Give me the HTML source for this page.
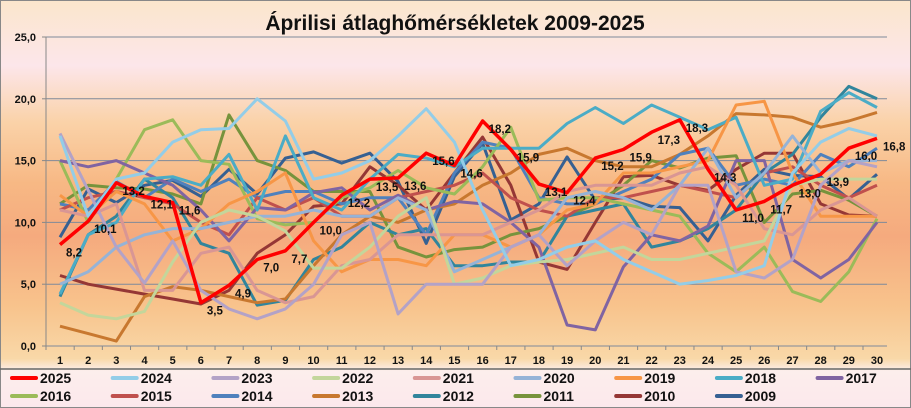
<!DOCTYPE html>
<html><head><meta charset="utf-8"><style>
body{margin:0;}
#wrap{width:911px;height:408px;position:relative;overflow:hidden;font-family:"Liberation Sans",sans-serif;}
</style></head><body>
<div id="wrap">
<svg id="svg" width="911" height="408" xmlns="http://www.w3.org/2000/svg">
<defs>
<linearGradient id="bg" x1="0" y1="0" x2="0" y2="1">
<stop offset="0" stop-color="#FBE6CC"/>
<stop offset="0.16" stop-color="#FCE6EA"/>
<stop offset="0.3" stop-color="#FAD2A8"/>
<stop offset="0.45" stop-color="#F7B884"/>
<stop offset="0.58" stop-color="#F5AA7E"/>
<stop offset="0.75" stop-color="#F8C38C"/>
<stop offset="0.88" stop-color="#F9D8A8"/>
<stop offset="0.91" stop-color="#FCEEEC"/>
<stop offset="1" stop-color="#FCE8EC"/>
</linearGradient>
</defs>
<rect x="0.5" y="0.5" width="910" height="407" fill="url(#bg)" stroke="#888"/>
<text x="455" y="30" text-anchor="middle" font-size="21" font-weight="bold" fill="#111">Áprilisi átlaghőmérsékletek  2009-2025</text>
<line x1="0" y1="369" x2="911" y2="369" stroke="#666" stroke-width="1.5"/>
<g id="grid"></g><g id="series"></g><g id="labels"></g><g id="legend"></g>
</svg>
</div>
<script>
const days=[1,2,3,4,5,6,7,8,9,10,11,12,13,14,15,16,17,18,19,20,21,22,23,24,25,26,27,28,29,30];
const yTicks=[0,5,10,15,20,25];
const yTickLabels=["0,0","5,0","10,0","15,0","20,0","25,0"];
const years=["2025","2024","2023","2022","2021","2020","2019","2018","2017","2016","2015","2014","2013","2012","2011","2010","2009"];
const colors=["#FF0000","#93CDE8","#B3A2C7","#C3D69B","#D99694","#95B3D7","#F79646","#4BACC6","#8064A2","#9BBB59","#C0504D","#4F81BD","#C8782F","#31859C","#77933C","#953735","#366092"];
const v2025=[8.2,10.1,13.2,12.1,11.6,3.5,4.9,7.0,7.7,10.0,12.2,13.5,13.6,15.6,14.6,18.2,15.9,13.1,12.4,15.2,15.9,17.3,18.3,14.3,11.0,11.7,13.0,13.9,16.0,16.8];
const v2024=[17,10.5,13.5,14,16.5,17.5,17.6,20,18.2,13.5,14,15,17,19.2,16.5,11,6.5,7,8,8.5,7,6,5,5.3,5.7,6.5,14,16.5,17.6,17];
const v2023=[17.2,12.6,8,5.1,8.5,4.5,3,2.2,3,5,9,10,2.6,5,5,5,8,9,6.5,8.5,10,9,13,13,6,5.5,7,13,15,14.5];
const v2022=[3.5,2.5,2.2,2.8,6.8,10,11,10.5,9.3,6.3,6.3,8,10.5,12,5,5.5,6.5,6.8,7,7.5,8,7,7,7.5,8,8.5,13,13.5,13.5,13.5];
const v2021=[11,10.5,11.5,4.5,4.5,7.5,8,4.5,3.5,4,6.5,7,9,9,9,9,10,11,12.5,13,13,13,14,14.5,13,9.5,9,11,12,10.5];
const v2020=[5,6,8,9,9.5,9.5,10,10.5,10.5,11,10.5,10.5,12,11,6,7,8,9,12,12.5,12,11,13,16,12,14,17,14,15,15];
const v2019=[12.2,10.5,12.5,11.5,8.5,9.5,11.5,12.5,14,8.5,6,7,7,6.5,9,9,8,9,11,11.5,14,14,14.5,15,19.5,19.8,14,10.5,10.5,10.5];
const v2018=[4.2,9,10,13.5,13.7,13,15.5,11,17,12,11,13.5,15.5,15.2,14.5,16,16,16,18,19.3,18,19.5,18.5,17.5,18.5,13,13.5,19,20.5,19.3];
const v2017=[15,14.5,15,14,13,11,8.5,11.2,11,12.4,12.8,11,12.2,11,11.7,11.5,10,8,1.7,1.3,6.4,9,8.5,9.7,15,15,7,5.5,7,10];
const v2016=[15,10,13.5,17.5,18.3,15,14.7,10.3,9.8,10,12,12.8,14.2,12.8,12.3,14.5,17.7,11.8,12,12,11.5,11,10.5,7.5,6,8,4.4,3.6,6,10.3];
const v2015=[11,12,12.5,12,11.5,10,9,12,11,12,10.5,10.5,12,12.5,13,14,12,11,10.5,12,12,12.5,13,12.5,12,14,14.5,13,12,13];
const v2014=[11.5,11,13.3,12,13.5,12.5,13.5,12,12.5,12.5,11.5,12,12,9,14,16.5,16,12,11.5,11.5,12.5,13.5,15.5,16,13,13.5,13,15.5,14.5,16];
const v2013=[1.6,1,0.4,4,4.8,4.5,4,3.5,3.8,6.5,9,10.5,10,11,11.5,13,14,15.5,16,15,14.5,14.5,15.5,17,18.8,18.7,18.5,17.7,18.2,18.9];
const v2012=[4,9,10.5,13.5,12,8.3,7.5,3.3,3.7,7,8,10,9,9.5,6.5,6.5,6.8,6.8,10.5,11,11.5,8,8.5,9.5,11,14,15.5,18.5,21,20];
const v2011=[11.5,13,12.8,12.7,12.3,11.5,18.7,15,14.2,12.5,12.5,12.5,8,7.2,7.8,8,9,9.5,10.5,11.5,13,15,14.4,15.2,15.4,10,12.3,12.6,11.8,10.5];
const v2010=[5.7,5,4.6,4.2,3.8,3.4,4.5,7.5,9,11.3,11.5,14.5,13,11,14,16.9,13,6.8,6.2,10,13.7,13.8,13,12.6,14.3,15.6,15.6,11.5,10.6,10.5];
const v2009=[8.8,12.7,11.6,13,13.4,12.1,14.3,12.3,15.2,15.7,14.8,15.6,13.3,8.3,13.7,16.4,10.2,11.5,15.3,11.8,12,11.3,11.2,8.5,12.2,14.3,13.8,13.7,11.9,13.9];
const seriesVals=[v2025,v2024,v2023,v2022,v2021,v2020,v2019,v2018,v2017,v2016,v2015,v2014,v2013,v2012,v2011,v2010,v2009];

const NS="http://www.w3.org/2000/svg";
const X0=46,X1=887,Y0=346,Y1=37;
function xs(d){return 60+(d-1)*(877-60)/29;}
function ys(v){return Y0-(v/25)*(Y0-Y1);}
function mk(tag,attrs,parent){const e=document.createElementNS(NS,tag);for(const k in attrs)e.setAttribute(k,attrs[k]);parent.appendChild(e);return e;}
const grid=document.getElementById('grid');
yTicks.forEach((t,i)=>{
 const l=mk('line',{x1:X0,x2:X1,y1:ys(t),y2:ys(t),stroke:'#7F8A9A','stroke-width':1},grid);
 
 
 const tx=mk('text',{x:36,y:ys(t)+4,'text-anchor':'end','font-size':11,'font-weight':'bold',fill:'#111'},grid);
 tx.textContent=yTickLabels[i];
 
 
 const tk=mk('line',{x1:X0-4,x2:X0,y1:ys(t),y2:ys(t),stroke:'#888'},grid);
 
 
});
const ax=mk('line',{x1:X0,x2:X0,y1:Y1,y2:Y0,stroke:'#888'},grid);


days.forEach(d=>{
 const tk=mk('line',{x1:xs(d)-14,x2:xs(d)-14,y1:Y0,y2:Y0+4,stroke:'#888'},grid);
 
 
 const tx=mk('text',{x:xs(d),y:Y0+18,'text-anchor':'middle','font-size':11,'font-weight':'bold',fill:'#111'},grid);
 tx.textContent=d;
 
 
});
const sg=document.getElementById('series');
for(let s=seriesVals.length-1;s>=0;s--){
 const pts=seriesVals[s].map((v,i)=>xs(days[i]).toFixed(1)+','+ys(v).toFixed(1)).join(' ');
 const p=mk('polyline',{points:pts,fill:'none',stroke:colors[s],'stroke-width':s===0?3.5:3,'stroke-linejoin':'round'},sg);
 
 
}
const lg=document.getElementById('labels');
v2025.forEach((v,i)=>{
 const t=mk('text',{x:xs(days[i])+6,y:ys(v)+12,'font-size':11.5,'font-weight':'bold',fill:'#111'},lg);
 t.textContent=v.toFixed(1).replace('.',',');
 
 
});
const leg=document.getElementById('legend');
years.forEach((y,i)=>{
 const row=i<9?0:1,col=i<9?i:i-9;
 const x=12+col*100.7,yy=row?396:378;
 const l=mk('line',{x1:x,x2:x+24,y1:yy,y2:yy,stroke:colors[i],'stroke-width':4,'stroke-linecap':'round'},leg);
 
 
 const t=mk('text',{x:x+28,y:yy+5,'font-size':14,'font-weight':'bold',fill:'#111'},leg);
 t.textContent=y;
 
 
});
</script>
</body></html>
